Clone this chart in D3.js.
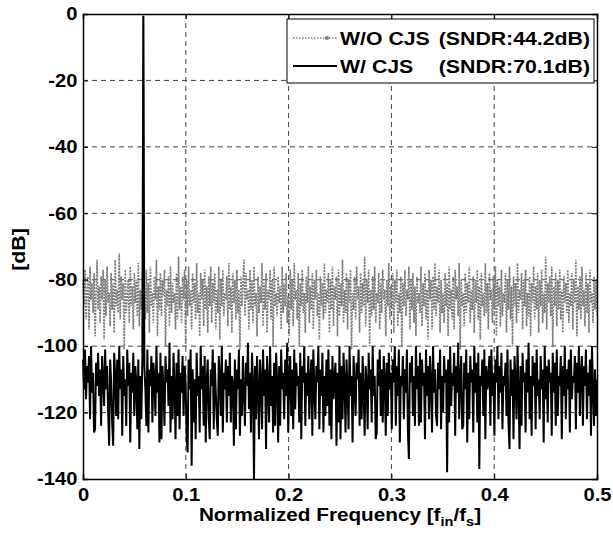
<!DOCTYPE html>
<html>
<head>
<meta charset="utf-8">
<script src="https://cdn.jsdelivr.net/npm/d3@7"></script>
<style>
    body, html {
        margin: 0px;
        padding: 0px;
        background-color: white;
    }
    text {
        font-family: "Liberation Sans", Arial, sans-serif;
        font-weight: bold;
        fill: black;
    }
</style>
</head>
<body>
<div id="container"></div>
<script>
// axis ticks
const xTicks = [0, 0.1, 0.2, 0.3, 0.4, 0.5];
const yTicks = [0, -20, -40, -60, -80, -100, -120, -140];

// spectrum in dB, 512 bins evenly spaced from 0 to fs/2
const withoutCJS = [
    -80, -88, -77, -92, -83, -79, -95, -76, -86, -81, -90, -78, -97, -84, -74, -89,
    -82, -93, -79, -86, -77, -98, -80, -91, -76, -87, -84, -94, -78, -89, -81, -96,
    -74, -88, -83, -90, -72, -92, -79, -86, -81, -101, -77, -90, -85, -80, -93, -76,
    -88, -82, -95, -78, -87, -80, -91, -75, -94, -83, -89, -79, -0.5, -85, -92, -77,
    -90, -81, -96, -76, -88, -84, -93, -79, -86, -74, -97, -82, -89, -78, -91, -80,
    -85, -77, -100, -83, -88, -79, -94, -76, -90, -81, -87, -84, -95, -78, -92, -73,
    -89, -82, -93, -79, -86, -77, -100, -80, -91, -76, -88, -83, -95, -78, -87, -81,
    -92, -75, -90, -84, -97, -78, -86, -80, -94, -77, -89, -82, -96, -79, -88, -76,
    -93, -81, -87, -78, -95, -83, -90, -76, -98, -80, -88, -77, -91, -84, -86, -79,
    -94, -75, -89, -82, -96, -78, -87, -80, -92, -77, -90, -83, -101, -79, -88, -81,
    -74, -91, -78, -86, -83, -95, -77, -89, -80, -93, -76, -88, -84, -97, -79, -90,
    -82, -87, -75, -94, -81, -89, -78, -96, -83, -86, -77, -92, -80, -100, -76, -88,
    -84, -91, -79, -87, -82, -95, -76, -90, -81, -88, -78, -93, -85, -97, -77, -89,
    -80, -94, -75, -86, -83, -92, -78, -100, -81, -88, -77, -90, -84, -96, -79, -87,
    -76, -93, -82, -89, -78, -95, -80, -86, -77, -91, -84, -98, -79, -88, -81, -92,
    -75, -90, -83, -87, -78, -96, -80, -89, -76, -94, -82, -86, -79, -97, -77, -91,
    -81, -88, -74, -93, -83, -90, -78, -95, -80, -87, -77, -101, -84, -89, -79, -92,
    -76, -86, -82, -96, -78, -90, -81, -88, -73, -94, -80, -87, -77, -100, -83, -91,
    -79, -89, -76, -93, -84, -87, -78, -95, -81, -90, -77, -86, -83, -97, -80, -88,
    -75, -92, -82, -89, -78, -96, -80, -87, -77, -94, -84, -90, -79, -100, -81, -88,
    -77, -91, -83, -86, -76, -95, -80, -89, -78, -93, -82, -97, -79, -87, -84, -90,
    -76, -94, -81, -88, -78, -92, -83, -98, -77, -86, -80, -95, -79, -89, -75, -91,
    -82, -87, -77, -96, -80, -90, -84, -93, -78, -88, -81, -97, -76, -89, -83, -92,
    -79, -95, -77, -86, -82, -91, -75, -101, -80, -88, -84, -94, -78, -90, -81, -87,
    -76, -93, -83, -89, -79, -96, -80, -87, -77, -92, -82, -98, -78, -88, -84, -91,
    -75, -90, -81, -95, -78, -86, -83, -93, -79, -89, -76, -97, -80, -88, -82, -94,
    -77, -91, -84, -87, -78, -96, -80, -89, -76, -92, -82, -100, -79, -88, -81, -93,
    -75, -90, -83, -86, -78, -95, -80, -88, -77, -94, -84, -91, -79, -97, -81, -87,
    -76, -92, -82, -89, -78, -96, -80, -88, -77, -93, -84, -90, -73, -95, -81, -87,
    -79, -91, -76, -100, -82, -88, -78, -94, -80, -89, -77, -92, -83, -96, -79, -87,
    -81, -90, -77, -93, -84, -88, -78, -95, -80, -87, -74, -97, -82, -89, -79, -92,
    -76, -88, -83, -94, -78, -90, -81, -96, -77, -87, -84, -93, -79, -89, -80, -91
];
const withCJS = [
    -104, -113, -101, -116, -106, -111, -103, -122, -100, -114, -108, -126, -125, -105, -112, -102,
    -115, -107, -124, -103, -110, -118, -101, -113, -106, -120, -130, -104, -111, -123, -130, -102,
    -109, -121, -104, -122, -100, -113, -107, -127, -103, -115, -110, -124, -101, -112, -105, -129,
    -108, -114, -102, -121, -106, -111, -125, -104, -131, -109, -122, -104, -0.5, -106, -113, -124,
    -101, -126, -107, -112, -103, -123, -105, -110, -121, -100, -114, -108, -129, -102, -128, -106,
    -113, -124, -103, -111, -107, -118, -99, -126, -109, -122, -102, -112, -128, -105, -121, -101,
    -125, -108, -114, -103, -121, -106, -111, -127, -132, -104, -113, -101, -136, -107, -123, -110,
    -128, -102, -115, -109, -126, -100, -113, -106, -124, -103, -129, -111, -104, -122, -128, -107,
    -112, -101, -125, -105, -114, -122, -127, -103, -110, -121, -100, -126, -108, -113, -104, -123,
    -106, -115, -102, -123, -109, -111, -130, -104, -125, -107, -113, -101, -127, -110, -121, -103,
    -114, -124, -105, -112, -99, -119, -108, -126, -102, -111, -140, -106, -122, -103, -113, -128,
    -104, -110, -125, -101, -115, -107, -131, -103, -112, -123, -100, -118, -109, -126, -105, -124,
    -102, -111, -129, -106, -124, -101, -113, -108, -122, -104, -115, -99, -126, -110, -103, -121,
    -107, -125, -101, -119, -105, -112, -109, -123, -102, -128, -106, -111, -100, -124, -108, -115,
    -103, -122, -110, -104, -127, -101, -113, -122, -106, -111, -100, -125, -107, -115, -102, -126,
    -109, -121, -104, -118, -101, -124, -107, -128, -103, -116, -110, -105, -130, -108, -123, -100,
    -128, -106, -122, -102, -111, -126, -104, -113, -125, -100, -115, -109, -129, -103, -112, -121,
    -105, -110, -101, -124, -108, -122, -103, -114, -127, -106, -111, -125, -102, -113, -107, -123,
    -100, -115, -109, -128, -126, -104, -112, -101, -121, -107, -123, -103, -110, -127, -105, -121,
    -102, -113, -108, -125, -104, -111, -100, -124, -106, -115, -101, -129, -109, -112, -103, -122,
    -107, -114, -101, -126, -134, -105, -111, -103, -121, -109, -124, -100, -113, -106, -124, -102,
    -123, -104, -112, -108, -128, -101, -115, -106, -122, -103, -111, -126, -100, -114, -107, -121,
    -124, -105, -113, -101, -125, -109, -120, -103, -111, -107, -138, -104, -123, -100, -118, -108,
    -112, -102, -127, -106, -114, -99, -122, -110, -103, -125, -124, -105, -113, -101, -129, -108,
    -122, -103, -111, -107, -126, -100, -114, -105, -123, -102, -137, -109, -112, -104, -121, -101,
    -128, -106, -113, -110, -103, -124, -101, -115, -108, -127, -104, -111, -100, -122, -106, -114,
    -102, -125, -109, -112, -105, -121, -101, -123, -131, -104, -115, -107, -128, -103, -110, -122,
    -100, -113, -131, -106, -124, -102, -111, -108, -126, -104, -114, -99, -122, -109, -127, -103,
    -112, -105, -125, -101, -115, -110, -122, -103, -113, -107, -129, -100, -116, -106, -123, -104,
    -111, -108, -127, -102, -114, -105, -124, -101, -121, -109, -112, -103, -128, -106, -115, -100,
    -122, -107, -113, -104, -126, -101, -116, -109, -111, -103, -125, -105, -114, -100, -121, -108,
    -103, -124, -106, -112, -101, -122, -108, -115, -104, -127, -100, -113, -124, -107, -121, -110
];

const seriesNames = ["W/O CJS", "W/ CJS"];
const seriesSndr = ["(SNDR:44.2dB)", "(SNDR:70.1dB)"];

const width = 613;
const height = 536;
const margin = { top: 14, right: 16, bottom: 57, left: 83 };
const stretch = "scale(1.12,1)";
const grayColor = "#7d7d7d";

const svg = d3.select("#container").append("svg")
    .attr("width", width)
    .attr("height", height);

const x = d3.scaleLinear().domain([0, 0.5]).range([margin.left, width - margin.right]);
const y = d3.scaleLinear().domain([-140, 0]).range([height - margin.bottom, margin.top]);

const binFreq = (i, n) => i * 0.5 / (n - 1);

// grid
const grid = svg.append("g")
    .attr("stroke", "#444")
    .attr("stroke-width", 1)
    .attr("stroke-dasharray", "5,4");
grid.selectAll(".vg")
    .data(xTicks.slice(1, -1))
    .join("line")
    .attr("x1", d => x(d)).attr("x2", d => x(d))
    .attr("y1", y(0)).attr("y2", y(-140));
grid.selectAll(".hg")
    .data(yTicks.slice(1, -1))
    .join("line")
    .attr("x1", x(0)).attr("x2", x(0.5))
    .attr("y1", d => y(d)).attr("y2", d => y(d));

// series
const line = d3.line()
    .x((d, i, arr) => x(binFreq(i, arr.length)))
    .y(d => y(d));

svg.append("path")
    .datum(withoutCJS)
    .attr("fill", "none")
    .attr("stroke", grayColor)
    .attr("stroke-width", 1.6)
    .attr("stroke-dasharray", "2,1.2")
    .attr("d", line);

svg.append("path")
    .datum(withCJS)
    .attr("fill", "none")
    .attr("stroke", "black")
    .attr("stroke-width", 2)
    .attr("stroke-linejoin", "bevel")
    .attr("d", line);

// axes (ticks inside, mirrored on top/right)
const bottomAxis = svg.append("g")
    .attr("transform", `translate(0,${y(-140)})`)
    .call(d3.axisBottom(x).tickValues(xTicks).tickFormat(d => String(d)).tickSize(-5).tickPadding(9));
const leftAxis = svg.append("g")
    .attr("transform", `translate(${x(0)},0)`)
    .call(d3.axisLeft(y).tickValues(yTicks).tickFormat(d => String(d)).tickSize(-5).tickPadding(5));
svg.append("g")
    .attr("transform", `translate(0,${y(0)})`)
    .call(d3.axisTop(x).tickValues(xTicks).tickFormat("").tickSize(-5));
svg.append("g")
    .attr("transform", `translate(${x(0.5)},0)`)
    .call(d3.axisRight(y).tickValues(yTicks).tickFormat("").tickSize(-5));

[bottomAxis, leftAxis].forEach(g => g
    .attr("font-family", "Liberation Sans, Arial, sans-serif")
    .attr("font-weight", "bold")
    .attr("font-size", 18));

svg.selectAll(".domain").attr("stroke", "black").attr("stroke-width", 1.5);
svg.selectAll(".tick line").attr("stroke", "black");
svg.selectAll(".tick text")
    .attr("fill", "black")
    .style("font-weight", "bold")
    .style("font-size", "18px")
    .attr("transform", stretch);

// axis titles
const xTitle = svg.append("text")
    .attr("transform", `translate(${x(0.25)},521) ${stretch}`)
    .attr("text-anchor", "middle")
    .attr("font-size", 18.5);
xTitle.append("tspan").text("Normalized Frequency [f");
xTitle.append("tspan").attr("dy", 5).attr("font-size", 13).text("in");
xTitle.append("tspan").attr("dy", -5).text("/f");
xTitle.append("tspan").attr("dy", 5).attr("font-size", 13).text("s");
xTitle.append("tspan").attr("dy", -5).text("]");

svg.append("text")
    .attr("transform", `translate(25,${(y(0) + y(-140)) / 2 + 3}) rotate(-90) ${stretch}`)
    .attr("text-anchor", "middle")
    .attr("font-size", 19)
    .text("[dB]");

// legend
const legend = svg.append("g");
legend.append("rect")
    .attr("x", 287).attr("y", 19)
    .attr("width", 307).attr("height", 64)
    .attr("fill", "white")
    .attr("stroke", "black")
    .attr("stroke-width", 1);

const rowY = [38, 66];
legend.append("line")
    .attr("x1", 293).attr("x2", 337)
    .attr("y1", rowY[0]).attr("y2", rowY[0])
    .attr("stroke", grayColor).attr("stroke-width", 1.5).attr("stroke-dasharray", "1.5,1.5");
legend.append("circle")
    .attr("cx", 327).attr("cy", rowY[0]).attr("r", 2)
    .attr("fill", grayColor);
legend.append("line")
    .attr("x1", 293).attr("x2", 337)
    .attr("y1", rowY[1]).attr("y2", rowY[1])
    .attr("stroke", "black").attr("stroke-width", 1.8);

legend.selectAll(".name")
    .data(seriesNames)
    .join("text")
    .attr("transform", (d, i) => `translate(340,${rowY[i] + 7}) ${stretch}`)
    .attr("font-size", 19)
    .text(d => d);
legend.selectAll(".sndr")
    .data(seriesSndr)
    .join("text")
    .attr("transform", (d, i) => `translate(590,${rowY[i] + 7}) ${stretch}`)
    .attr("text-anchor", "end")
    .attr("font-size", 19)
    .text(d => d);
</script>
</body>
</html>
